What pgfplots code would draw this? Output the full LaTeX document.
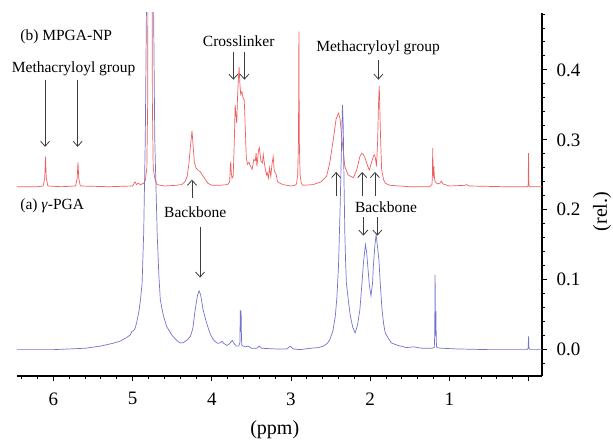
\documentclass[border=0pt]{standalone}
\usepackage{pgfplots}
\pgfplotsset{compat=1.18}
\usepackage{fontspec}
\setmainfont{Liberation Serif}
\usetikzlibrary{arrows.meta}
\definecolor{redline}{RGB}{240,95,95}
\definecolor{blueline}{RGB}{115,115,205}
\definecolor{arr}{RGB}{60,60,60}
\newcommand\annf{\fontsize{15.5}{18}\selectfont}
\newcommand\tickf{\fontsize{19}{22}\selectfont}
\begin{document}
\begin{tikzpicture}
\useasboundingbox (-17pt,-64pt) rectangle (596pt,376pt);
\begin{axis}[
  at={(0pt,0pt)}, anchor=south west,
  scale only axis, width=525pt, height=363pt,
  x dir=reverse,
  xmin=-0.17, xmax=6.46,
  ymin=-0.0377, ymax=0.4814,
  axis x line*=bottom, axis y line*=right,
  axis line style={line width=1.2pt, black},
  tick align=outside,
  major tick length=5pt, minor tick length=3pt,
  every tick/.style={line width=0.9pt, black},
  xtick={0,1,2,3,4,5,6}, xticklabels={,1,2,3,4,5,6},
  minor xtick={0.2,0.4,0.6,0.8,1.2,1.4,1.6,1.8,2.2,2.4,2.6,2.8,3.2,3.4,3.6,3.8,4.2,4.4,4.6,4.8,5.2,5.4,5.6,5.8,6.2,6.4},
  ytick={0,0.1,0.2,0.3,0.4}, yticklabels={0.0,0.1,0.2,0.3,0.4},
  minor ytick={-0.02,0.02,0.04,0.06,0.08,0.12,0.14,0.16,0.18,0.22,0.24,0.26,0.28,0.32,0.34,0.36,0.38,0.42,0.44,0.46,0.48},
  tick label style={font=\tickf},
  x tick label style={yshift=-8pt},
  y tick label style={xshift=6pt},
  clip mode=individual,
]
% (b) MPGA-NP
\addplot[redline, line width=0.7pt] coordinates {
(6.46,0.233) (6.2,0.233) (6.13,0.234) (6.11,0.245) (6.10,0.276) (6.09,0.245) (6.07,0.234)
(5.9,0.233) (5.72,0.234) (5.70,0.245) (5.69,0.268) (5.68,0.245) (5.66,0.234)
(5.3,0.233) (5.0,0.234) (4.98,0.238) (4.97,0.240) (4.95,0.236) (4.93,0.238) (4.90,0.236)
(4.86,0.238) (4.84,0.242) (4.82,0.26) (4.81,0.35) (4.80,0.8) (4.78,1.5) (4.76,0.8) (4.75,0.35)
(4.74,0.26) (4.72,0.245) (4.69,0.236) (4.6,0.234) (4.45,0.235) (4.38,0.236) (4.34,0.240)
(4.31,0.248) (4.29,0.265) (4.27,0.29) (4.25,0.313) (4.235,0.29) (4.22,0.268) (4.20,0.260)
(4.17,0.256) (4.15,0.255) (4.12,0.250) (4.08,0.243) (4.05,0.238) (4.0,0.235) (3.9,0.235)
(3.80,0.236) (3.775,0.240) (3.765,0.262) (3.76,0.269) (3.755,0.255) (3.745,0.245) (3.73,0.248)
(3.715,0.30) (3.705,0.35) (3.695,0.335) (3.685,0.324) (3.675,0.36) (3.665,0.385) (3.655,0.404)
(3.645,0.38) (3.635,0.365) (3.62,0.369) (3.605,0.360) (3.59,0.357) (3.575,0.31) (3.565,0.276)
(3.55,0.265) (3.53,0.268) (3.51,0.262) (3.49,0.258) (3.47,0.272) (3.45,0.27) (3.44,0.281)
(3.43,0.262) (3.41,0.285) (3.40,0.289) (3.38,0.27) (3.36,0.267) (3.35,0.279) (3.33,0.262)
(3.31,0.250) (3.30,0.253) (3.285,0.245) (3.27,0.26) (3.255,0.248) (3.24,0.265) (3.225,0.276)
(3.21,0.255) (3.19,0.252) (3.17,0.240) (3.14,0.238) (3.10,0.236) (3.0,0.234) (2.95,0.235)
(2.93,0.237) (2.915,0.25) (2.905,0.30) (2.90,0.455) (2.895,0.30) (2.885,0.25) (2.87,0.238)
(2.85,0.235) (2.72,0.236) (2.62,0.240) (2.55,0.248) (2.51,0.267) (2.46,0.305) (2.43,0.330)
(2.40,0.338) (2.38,0.330) (2.36,0.305) (2.32,0.262) (2.28,0.250) (2.25,0.248) (2.21,0.246)
(2.17,0.257) (2.13,0.276) (2.106,0.281) (2.085,0.279) (2.065,0.274) (2.03,0.262) (2.01,0.257)
(1.98,0.269) (1.95,0.279) (1.935,0.275) (1.92,0.262) (1.905,0.30) (1.895,0.35) (1.885,0.377)
(1.875,0.33) (1.865,0.29) (1.855,0.257) (1.83,0.243) (1.81,0.238) (1.75,0.235) (1.5,0.233)
(1.25,0.233) (1.22,0.236) (1.215,0.245) (1.21,0.288) (1.205,0.250) (1.20,0.248) (1.195,0.262)
(1.19,0.248) (1.18,0.240) (1.15,0.237) (1.12,0.238) (1.10,0.241) (1.08,0.237) (1.0,0.234)
(0.8,0.235) (0.78,0.236) (0.75,0.234) (0.3,0.233) (0.01,0.233) (0.005,0.236) (0.0,0.281)
(-0.005,0.236) (-0.01,0.233) (-0.17,0.233)
};
% (a) gamma-PGA
\addplot[blueline, line width=0.7pt] coordinates {
(6.46,0.000) (6.0,0.000) (5.6,0.002) (5.41,0.005) (5.25,0.009) (5.16,0.012) (5.08,0.017)
(5.03,0.021) (5.01,0.026) (4.99,0.027) (4.97,0.030) (4.95,0.038) (4.92,0.055) (4.90,0.072)
(4.88,0.095) (4.86,0.167) (4.84,0.30) (4.82,0.55) (4.80,1.2) (4.78,1.5) (4.76,1.2) (4.74,0.55)
(4.72,0.30) (4.69,0.167) (4.67,0.11) (4.65,0.071) (4.61,0.048) (4.57,0.033) (4.50,0.020)
(4.44,0.013) (4.40,0.0095) (4.36,0.010) (4.31,0.014) (4.27,0.019) (4.24,0.030) (4.21,0.057)
(4.18,0.078) (4.16,0.084) (4.14,0.078) (4.11,0.057) (4.07,0.040) (4.04,0.029) (4.01,0.020)
(3.98,0.014) (3.94,0.010) (3.92,0.009) (3.89,0.010) (3.87,0.012) (3.85,0.009) (3.81,0.006)
(3.78,0.008) (3.76,0.011) (3.74,0.013) (3.72,0.009) (3.69,0.005) (3.66,0.005) (3.645,0.010)
(3.64,0.057) (3.635,0.025) (3.63,0.055) (3.625,0.015) (3.62,0.006) (3.58,0.004) (3.54,0.005)
(3.50,0.002) (3.43,0.002) (3.40,0.005) (3.37,0.002) (3.2,0.001) (3.05,0.001) (3.01,0.005)
(2.97,0.001) (2.89,0.000) (2.75,0.002) (2.65,0.003) (2.59,0.005) (2.54,0.009) (2.51,0.014)
(2.47,0.027) (2.44,0.048) (2.42,0.075) (2.40,0.119) (2.38,0.20) (2.36,0.30) (2.35,0.350)
(2.34,0.32) (2.33,0.24) (2.32,0.167) (2.31,0.125) (2.30,0.095) (2.27,0.065) (2.25,0.048)
(2.22,0.032) (2.19,0.024) (2.16,0.035) (2.13,0.057) (2.10,0.100) (2.085,0.124) (2.06,0.150)
(2.045,0.140) (2.03,0.119) (2.01,0.092) (1.99,0.077) (1.97,0.095) (1.96,0.119) (1.94,0.150)
(1.925,0.164) (1.91,0.150) (1.89,0.129) (1.87,0.090) (1.85,0.057) (1.83,0.037) (1.81,0.024)
(1.77,0.016) (1.73,0.0095) (1.65,0.006) (1.54,0.003) (1.45,0.004) (1.35,0.002) (1.22,0.002)
(1.19,0.003) (1.185,0.02) (1.18,0.107) (1.175,0.02) (1.17,0.055) (1.165,0.012) (1.16,0.003)
(1.10,0.002) (0.9,0.001) (0.5,0.000) (0.02,0.000) (0.005,0.002) (0.0,0.019) (-0.005,0.002)
(-0.02,0.000) (-0.17,0.000)
};
% annotations
\node[font=\annf, anchor=west, inner sep=0pt] at (6.42,0.447) {(b) MPGA-NP};
\node[font=\annf, inner sep=0pt] at (5.745,0.401) {Methacryloyl group};
\draw[arr, line width=0.8pt, -{Straight Barb[length=5pt,width=9pt]}] (6.105,0.386) -- (6.105,0.29);
\draw[arr, line width=0.8pt, -{Straight Barb[length=5pt,width=9pt]}] (5.694,0.386) -- (5.694,0.29);
\node[font=\annf, inner sep=0pt] at (3.66,0.441) {Crosslinker};
\draw[arr, line width=0.8pt, -{Straight Barb[length=5pt,width=9pt]}] (3.727,0.426) -- (3.727,0.386);
\draw[arr, line width=0.8pt, -{Straight Barb[length=5pt,width=9pt]}] (3.588,0.426) -- (3.588,0.386);
\draw[arr, line width=0.8pt, -{Straight Barb[length=5pt,width=9pt]}] (4.25,0.217) -- (4.25,0.243);
\node[font=\annf, inner sep=0pt] at (4.21,0.197) {Backbone};
\node[font=\annf, anchor=west, inner sep=0pt] at (6.42,0.206) {(a) \textit{γ}-PGA};
\draw[arr, line width=0.8pt, -{Straight Barb[length=5pt,width=9pt]}] (4.148,0.176) -- (4.148,0.103);
\node[font=\annf, inner sep=0pt] at (1.90,0.431) {Methacryloyl group};
\draw[arr, line width=0.8pt, -{Straight Barb[length=5pt,width=9pt]}] (1.896,0.414) -- (1.896,0.386);
\draw[arr, line width=0.8pt, -{Straight Barb[length=5pt,width=9pt]}] (2.43,0.219) -- (2.43,0.254);
\draw[arr, line width=0.8pt, -{Straight Barb[length=5pt,width=9pt]}] (2.10,0.219) -- (2.10,0.254);
\draw[arr, line width=0.8pt, -{Straight Barb[length=5pt,width=9pt]}] (1.94,0.219) -- (1.94,0.254);
\node[font=\annf, inner sep=0pt] at (1.80,0.204) {Backbone};
\draw[arr, line width=0.8pt, -{Straight Barb[length=5pt,width=9pt]}] (2.086,0.189) -- (2.086,0.163);
\draw[arr, line width=0.8pt, -{Straight Barb[length=5pt,width=9pt]}] (1.909,0.189) -- (1.909,0.163);
% axis labels
\node[font=\fontsize{20}{24}\selectfont, inner sep=0pt, yshift=-54pt] at (rel axis cs:0.491,0) {(ppm)};
\node[font=\fontsize{20}{24}\selectfont, inner sep=0pt, xshift=60pt, rotate=90] at (rel axis cs:1,0.453) {(rel.)};
\end{axis}
\end{tikzpicture}
\end{document}
